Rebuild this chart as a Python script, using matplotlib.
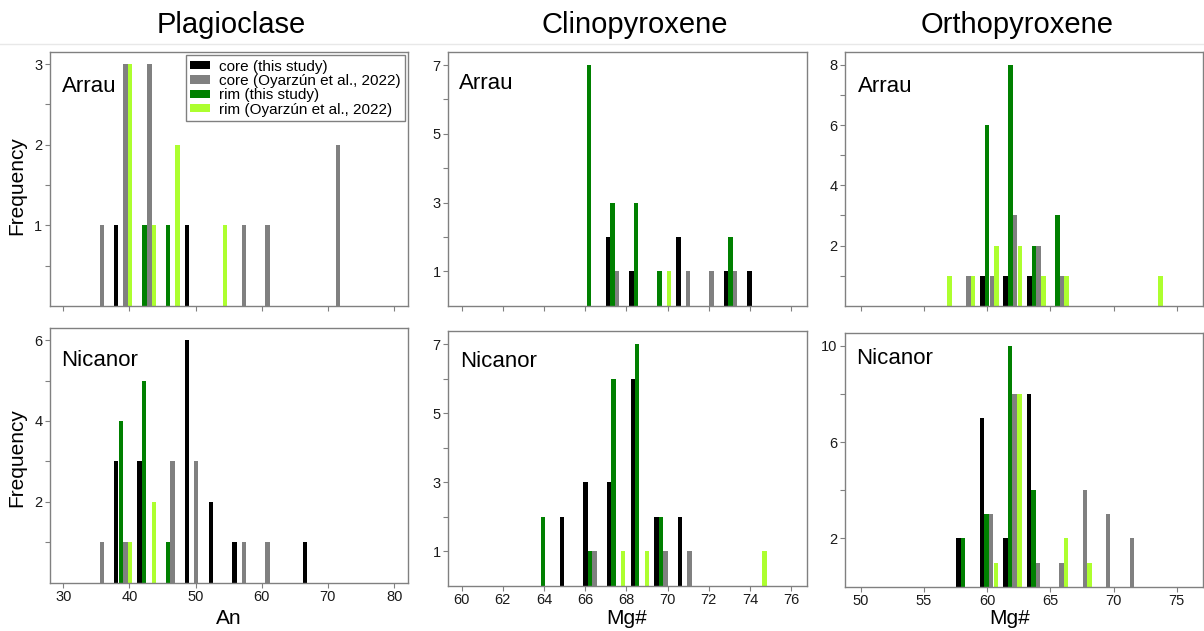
import matplotlib.pyplot as plt
from matplotlib.patches import Patch
from matplotlib.lines import Line2D

plt.rcParams['font.family'] = ['Liberation Sans', 'DejaVu Sans']

series_labels = ['core (this study)', 'core (Oyarzún et al., 2022)',
                 'rim (this study)', 'rim (Oyarzún et al., 2022)']
series_colors = ['black', '#808080', '#008000', '#adff2f']

# Plagioclase (An), Arrau
pl_ar_core_x = [38.0, 48.7]
pl_ar_core_n = [1, 1]
pl_ar_coreO_x = [35.85, 39.4, 43.0, 57.3, 60.9, 71.5]
pl_ar_coreO_n = [1, 3, 3, 1, 1, 2]
pl_ar_rim_x = [42.25, 45.8]
pl_ar_rim_n = [1, 1]
pl_ar_rimO_x = [40.1, 43.75, 47.3, 54.45]
pl_ar_rimO_n = [3, 1, 2, 1]

# Plagioclase (An), Nicanor
pl_ni_core_x = [38.0, 41.5, 48.7, 52.3, 55.9, 66.5]
pl_ni_core_n = [3, 3, 6, 2, 1, 1]
pl_ni_coreO_x = [35.85, 39.4, 46.5, 50.1, 57.3, 60.9]
pl_ni_coreO_n = [1, 1, 3, 3, 1, 1]
pl_ni_rim_x = [38.7, 42.2, 45.8]
pl_ni_rim_n = [4, 5, 1]
pl_ni_rimO_x = [40.1, 43.7]
pl_ni_rimO_n = [1, 2]

# Clinopyroxene (Mg#), Arrau
cp_ar_core_x = [67.11, 68.24, 70.54, 72.83, 73.98]
cp_ar_core_n = [2, 1, 2, 1, 1]
cp_ar_coreO_x = [67.55, 71.0, 72.13, 73.28]
cp_ar_coreO_n = [1, 1, 1, 1]
cp_ar_rim_x = [66.19, 67.32, 68.47, 69.6, 73.05]
cp_ar_rim_n = [7, 3, 3, 1, 2]
cp_ar_rimO_x = [70.07]
cp_ar_rimO_n = [1]

# Clinopyroxene (Mg#), Nicanor
cp_ni_core_x = [64.87, 66.01, 67.16, 68.31, 69.46, 70.61]
cp_ni_core_n = [2, 3, 3, 6, 2, 2]
cp_ni_coreO_x = [66.46, 69.91, 71.06]
cp_ni_coreO_n = [1, 1, 1]
cp_ni_rim_x = [63.95, 66.23, 67.38, 68.53, 69.68]
cp_ni_rim_n = [2, 1, 6, 7, 2]
cp_ni_rimO_x = [67.85, 69.0, 74.72]
cp_ni_rimO_n = [1, 1, 1]

# Orthopyroxene (Mg#), Arrau
op_ar_core_x = [59.63, 61.47, 63.34]
op_ar_core_n = [1, 1, 1]
op_ar_coreO_x = [58.53, 60.37, 62.21, 64.08, 65.92]
op_ar_coreO_n = [1, 1, 3, 2, 1]
op_ar_rim_x = [60.0, 61.84, 63.71, 65.55]
op_ar_rim_n = [6, 8, 2, 3]
op_ar_rimO_x = [57.03, 58.89, 60.74, 62.58, 64.45, 66.29, 73.71]
op_ar_rimO_n = [1, 1, 2, 2, 1, 1, 1]

# Orthopyroxene (Mg#), Nicanor
op_ni_core_x = [57.74, 59.58, 61.45, 63.29]
op_ni_core_n = [2, 7, 2, 8]
op_ni_coreO_x = [60.32, 62.18, 64.03, 65.89, 67.74, 69.58, 71.47]
op_ni_coreO_n = [3, 8, 1, 1, 4, 3, 2]
op_ni_rim_x = [58.11, 59.95, 61.82, 63.66]
op_ni_rim_n = [2, 3, 10, 4]
op_ni_rimO_x = [60.68, 62.55, 66.26, 68.11]
op_ni_rimO_n = [1, 8, 2, 1]

W, H = 1204, 631
fig = plt.figure(figsize=(W / 100, H / 100), dpi=100)


def add_ax(l, t, r, b):
    return fig.add_axes([l / W, 1 - b / H, (r - l) / W, (b - t) / H])


panels = [
    # box, data, width, xlim, xticks, ylim, yticks, yminor, label, label pos, show x labels
    ((50, 52, 408, 306),
     [(pl_ar_core_x, pl_ar_core_n), (pl_ar_coreO_x, pl_ar_coreO_n),
      (pl_ar_rim_x, pl_ar_rim_n), (pl_ar_rimO_x, pl_ar_rimO_n)],
     0.68, (28, 82.1), range(30, 81, 10), (0, 3.15), [1, 2, 3], [0.5, 1.5, 2.5],
     'Arrau', (0.033, 0.844), False),
    ((50, 328, 408, 582.5),
     [(pl_ni_core_x, pl_ni_core_n), (pl_ni_coreO_x, pl_ni_coreO_n),
      (pl_ni_rim_x, pl_ni_rim_n), (pl_ni_rimO_x, pl_ni_rimO_n)],
     0.68, (28, 82.1), range(30, 81, 10), (0, 6.3), [2, 4, 6], [1, 3, 5],
     'Nicanor', (0.030, 0.852), True),
    ((448.3, 52.3, 806.7, 305.7),
     [(cp_ar_core_x, cp_ar_core_n), (cp_ar_coreO_x, cp_ar_coreO_n),
      (cp_ar_rim_x, cp_ar_rim_n), (cp_ar_rimO_x, cp_ar_rimO_n)],
     0.215, (59.35, 76.76), range(60, 77, 2), (0, 7.37), [1, 3, 5, 7], [2, 4, 6],
     'Arrau', (0.031, 0.854), False),
    ((448.3, 331, 806.7, 585.7),
     [(cp_ni_core_x, cp_ni_core_n), (cp_ni_coreO_x, cp_ni_coreO_n),
      (cp_ni_rim_x, cp_ni_rim_n), (cp_ni_rimO_x, cp_ni_rimO_n)],
     0.215, (59.35, 76.76), range(60, 77, 2), (0, 7.38), [1, 3, 5, 7], [2, 4, 6],
     'Nicanor', (0.033, 0.86), True),
    ((845, 52.3, 1202.7, 305.7),
     [(op_ar_core_x, op_ar_core_n), (op_ar_coreO_x, op_ar_coreO_n),
      (op_ar_rim_x, op_ar_rim_n), (op_ar_rimO_x, op_ar_rimO_n)],
     0.35, (48.76, 77.05), range(50, 76, 5), (0, 8.42), [2, 4, 6, 8], [1, 3, 5, 7],
     'Arrau', (0.037, 0.844), False),
    ((845, 333.3, 1202.7, 586.7),
     [(op_ni_core_x, op_ni_core_n), (op_ni_coreO_x, op_ni_coreO_n),
      (op_ni_rim_x, op_ni_rim_n), (op_ni_rimO_x, op_ni_rimO_n)],
     0.35, (48.76, 77.05), range(50, 76, 5), (0, 10.51), [2, 6, 10], [4, 8],
     'Nicanor', (0.03, 0.879), True),
]

axes = []
for box, data, w, xlim, xt, ylim, yt, ymin, name, npos, showx in panels:
    ax = add_ax(*box)
    for (xs, ns), c in zip(data, series_colors):
        ax.bar(xs, ns, width=w, color=c, linewidth=0)
    ax.set_xlim(*xlim)
    ax.set_ylim(*ylim)
    ax.set_xticks(list(xt))
    ax.set_yticks(yt)
    ax.set_yticks(ymin, minor=True)
    ax.tick_params(which='both', direction='out', length=3.5, width=0.8,
                   color='#808080', labelsize=10.5, pad=2, labelcolor='#1a1a1a')
    if not showx:
        ax.tick_params(axis='x', labelbottom=False)
    for s in ax.spines.values():
        s.set_color('#808080')
        s.set_linewidth(1.0)
    ax.text(npos[0], npos[1], name, transform=ax.transAxes, fontsize=16,
            va='baseline', ha='left')
    axes.append(ax)

handles = [Patch(facecolor=c, edgecolor='none') for c in series_colors]
leg = axes[0].legend(handles, series_labels, loc='upper right',
                     bbox_to_anchor=(1, 1), borderaxespad=0.2, fontsize=11,
                     handlelength=1.3, handleheight=0.45, handletextpad=0.55,
                     labelspacing=0.02, borderpad=0.3, fancybox=False,
                     framealpha=1, edgecolor='#808080')
leg.get_frame().set_linewidth(1.0)

# column titles
for cx, title in [(231, 'Plagioclase'), (635, 'Clinopyroxene'), (1017, 'Orthopyroxene')]:
    fig.text(cx / W, 1 - 33 / H, title, fontsize=21, ha='center', va='baseline')

# axis labels
for cy in [186, 458]:
    fig.text(17 / W, 1 - cy / H, 'Frequency', fontsize=15, rotation=90,
             ha='center', va='center')
for cx, lab in [(229, 'An'), (627, 'Mg#'), (1010, 'Mg#')]:
    fig.text(cx / W, 1 - 624 / H, lab, fontsize=15, ha='center', va='baseline')

fig.add_artist(Line2D([0, 1], [1 - 43.5 / H] * 2, color='#e8e8e8', lw=1))

fig.savefig('out.png', dpi=100)
